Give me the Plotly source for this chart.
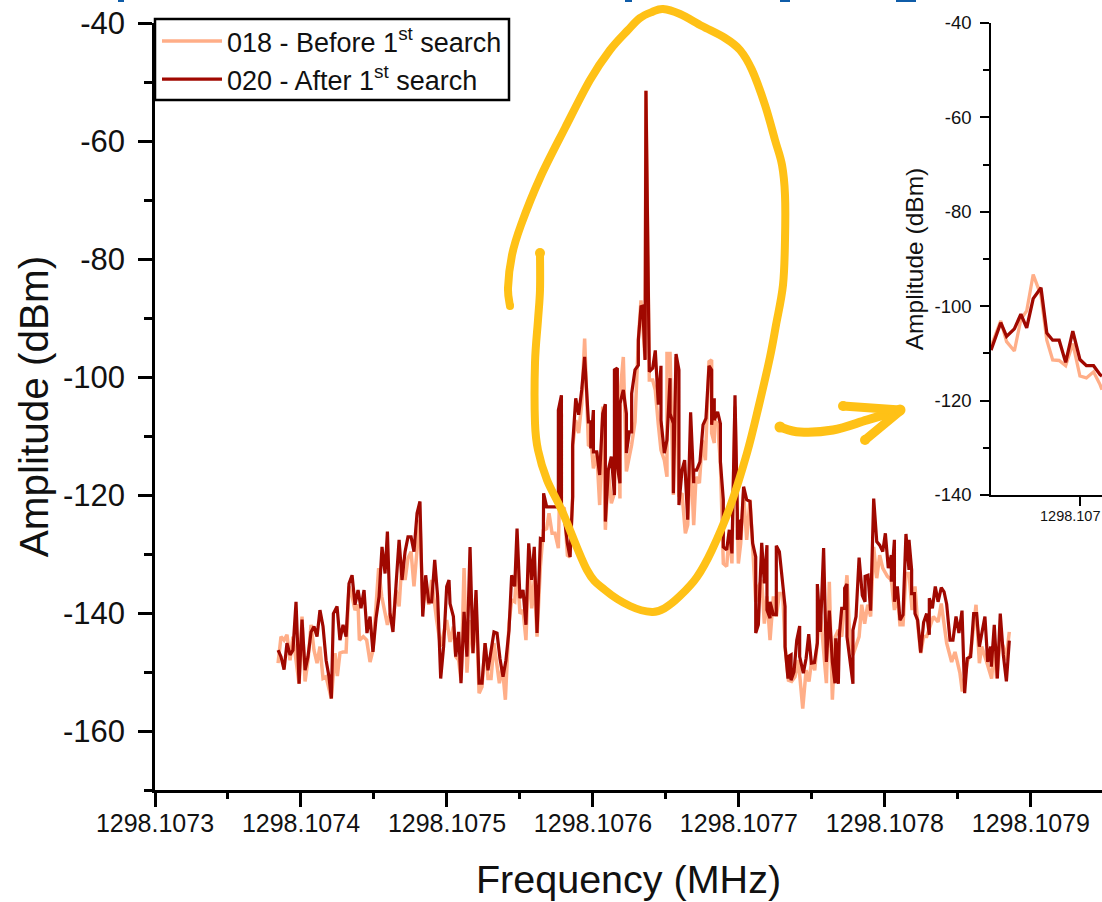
import plotly.graph_objects as go

W, H = 1102, 902
FREQ_BASE = 1298.1073  # MHz

x_tick_vals = [1298.1073, 1298.1074, 1298.1075, 1298.1076, 1298.1077, 1298.1078, 1298.1079]
x_tick_text = ["1298.1073", "1298.1074", "1298.1075", "1298.1076", "1298.1077", "1298.1078", "1298.1079"]
x_minor_vals = [1298.10735, 1298.10745, 1298.10755, 1298.10765, 1298.10775, 1298.10785]
y_tick_vals = [-40, -60, -80, -100, -120, -140, -160]
y_tick_text = ["-40", "-60", "-80", "-100", "-120", "-140", "-160"]
y_minor_vals = [-50, -70, -90, -110, -130, -150, -170]
inset_y_ticks = [-40, -60, -80, -100, -120, -140]
inset_y_minor = [-50, -70, -90, -110, -130]

# offsets from 1298.1073 MHz, in Hz
after_hz = [84.3,86.3,88.4,90.4,92.5,94.5,96.6,98.7,100.7,102.8,104.8,106.9,108.9,111,113,115.1,117.2,119.2,120.8,122.2,124.7,126.7,128.8,130.9,132.9,135,137,139.1,141.1,143.2,145.2,147.3,149.3,151.4,153.5,155.5,157.6,159.2,161,163,165.1,167.2,169.2,171.3,173.3,175.4,177.4,179.5,181.5,183.4,185.4,187.5,189.5,191.6,193.6,195.7,197.7,199.8,201.4,202.1,204.4,206,208,209.6,211.7,213.7,215.8,217.8,219.9,222,224,226.1,228.1,230.2,232.2,234.3,236.3,238.4,240.4,242.5,244.3,246.4,248,250,252.1,254.1,256,258,259.8,261.7,264,266,266.2,268.3,
 276.3,276.3,278.4,278.4,280.4,282.5,284.3,286.1,286.1,288.2,290.2,292.3,294.3,296.9,298.5,298.5,300.3,300.3,302.6,304.6,306.7,308.5,308.5,310.5,312.6,314.7,314.7,316.7,316.7,318.5,318.5,320.8,322.9,322.9,324.9,326.5,326.5,328.8,331.1,331.1,332.9,334.1,335.7,336.3,338.6,340.9,342.7,344.8,346.6,346.6,348.9,350.7,352.8,352.8,355.1,355.1,356.9,358.9,358.9,361,362.8,364.9,366.9,369,369,371,373.3,375.4,377.4,379.5,381.3,381.3,383.1,383.1,385.4,387.3,387.3,389.3,389.3,391.6,393.4,395.2,397.3,398.9,398.9,401.2,401.2,403.2,405.3,407.6,409.4,411.5,
 411.5,413.3,415.6,417.4,419.2,419.2,421.3,421.3,423.6,425.6,425.6,427.7,430,431.6,431.6,433.6,433.6,435.7,435.7,437.7,439.6,441.6,441.6,444.1,446,447.8,449.6,451.7,453.7,453.7,455.8,458,459.9,461.9,464,465.8,466.3,468.1,468.8,470.4,472.4,472.4,474,474,478.1,478.1,480.2,482.3,484.5,486.4,486.4,488.4,490.2,492.3,494.4,496.4,498.5,500.3,502.3,504.4,504.4,506.5,506.5,508.5,510.3,512.4,514.4,516.5,516.5,518.3,518.3,520.2,520.6,522.4,524.5,526.5,528.6,530.4,530.4,532.5,534.5,536.4,538.6,540.5,542.3,544.6,546.6,548.7,550.7,552.8,554.6,556.4,558.7,560.8,562.8,564.7,568.5,570.4,572.4,572.9,574.9,577,579,581.1,583.2,585.2]
after_dbm = [-146.3,-147.4,-149.6,-145.1,-147.1,-146.3,-138.1,-152,-141.1,-149.7,-147.4,-143.2,-142.3,-144,-139.5,-142.3,-148,-150.8,-154.5,-140.1,-138.9,-144.6,-142,-144,-135,-133.6,-138.6,-136.1,-139.2,-136.1,-143.4,-140.6,-146.6,-140.9,-137.2,-128.8,-133.3,-126.2,-140.1,-143.2,-135.3,-127.6,-134.4,-129.6,-127.1,-127.1,-129.6,-123.1,-121.1,-140.6,-133.6,-138.1,-138.1,-131,-137.2,-151.1,-145.7,-135.5,-134.4,-138.4,-140.6,-147.4,-143.2,-151.9,-139.8,-147.4,-128.8,-146.8,-136.1,-151.9,-151.9,-145.1,-149.7,-146.3,-143.2,-143.4,-147.7,-150.8,-148,-142.9,-133.6,-135.5,-125.7,-137.5,-136.1,-142,-128.2,-134.4,-128.8,-143.4,-127.4,-127.6,-119.7,-122,
 -122,-105.6,-103.1,-122.5,-123.7,-128.2,-130.5,-120.3,-111.5,-103.6,-106.4,-102.2,-96.6,-107.6,-107.6,-112.1,-105.6,-112.7,-112.7,-116.6,-106.2,-104.6,-124.5,-115.8,-113.5,-120,-98.8,-98.5,-115.2,-118,-104.5,-102.2,-106.2,-112.9,-109.3,-109.3,-102.8,-98.8,-98,-93.7,-88.1,-88,-97.1,-51.5,-99.1,-98.5,-95.5,-104.7,-98.1,-107.3,-112.9,-110.7,-100.2,-106.2,-107.9,-119.7,-96.1,-98.8,-121.7,-115.8,-114.1,-124.2,-106,-118,-115.8,-115.8,-114.4,-108.1,-107,-98.1,-98.8,-108.1,-103.6,-107.3,-105.9,-107.9,-114.4,-120.8,-128.8,-129.3,-125.9,-129.9,-103.1,-123.1,-127.6,-124.2,-127.6,-118.6,-120.8,-121.1,-128.2,-130.5,
 -143.4,-142,-128.1,-135,-128.5,-139.5,-140.9,-138.1,-140.3,-140.3,-128.6,-129.6,-135.5,-138.9,-145.7,-151.1,-147.4,-147.1,-151.4,-150,-144.6,-142.2,-147.4,-150.2,-147.7,-143.6,-148.5,-148.4,-145.1,-135.1,-143.2,-129,-148.3,-139.6,-148.3,-151.9,-144.3,-152,-143.6,-139.2,-139.2,-135.8,-135.1,-144,-152,-142.9,-140.6,-130.6,-137,-138.1,-133.8,-133.6,-139.6,-120.6,-127.9,-128.5,-129.6,-126.5,-132.4,-130.2,-134.7,-127.6,-138.1,-135.5,-141.2,-140.3,-126.6,-132.7,-127.6,-132.7,-136.7,-136.7,-140.1,-141.2,-146.7,-141.6,-140.1,-143.7,-137.5,-139.2,-135.5,-138.1,-135.7,-136.4,-138.5,-144.6,-144.6,-140.6,-143.4,-139.6,-153.6,-147.7,-147.4,-140.1,-140.1,-145.7,-140.6,-148.3,-145.7,-149.1,-142,-151.1,-140.1,-147.1,-151.6,-144.7]

before_hz = [84.3,86.3,88.4,90.4,92.5,94.5,96.6,98.7,100.7,102.8,104.8,106.9,108.9,111,113,115.1,117.2,119.2,120.8,123.3,124.9,126.7,128.8,130.9,132.9,135,137,139.1,140,142.7,145,147.3,149.3,153.2,155.3,159.2,161,163,165.1,167.2,169.2,171.3,173.3,175.4,177.4,179.5,181.5,183.4,185.4,187.5,189.5,192.9,195.7,199.8,202.1,204.4,206,208,209.6,211.7,213.7,215.8,217.8,219.9,222,224,226.1,228.1,230.2,232.2,235.9,237.9,240,242.5,244.3,246.4,248,250,252.1,254.1,256,258,259.8,261.7,264,266,268.3,
 269.9,272,274,276.3,278.4,278.4,280.4,282.5,284.3,286.1,286.1,288.2,290.2,292.3,294.3,296.9,299,300.3,302.6,304.6,306.7,308.5,310.5,312.6,314.7,316.7,318.5,318.5,320.8,322.9,324.9,326.5,328.8,331.1,332.9,335.7,336.3,338.6,340.9,342.7,344.8,346.6,348.9,350.7,350.7,352.8,355.1,356.9,358.9,361,363.3,364.9,366.9,369,370.6,372.9,374.9,377,379.5,381.3,381.3,383.1,383.1,385.4,387.3,389.3,391.6,393.4,395.2,397.3,399.6,401.2,403.2,405.3,407.6,409.4,
 411.5,413.3,415.6,417.4,419.2,421.3,423.6,425.6,427.7,430,431.6,433.9,436.1,438.4,440.7,443.7,446,448,449.8,451.9,454.4,456,459.9,461.9,464,466,468.1,470.4,474,476.1,478.1,482.3,484.1,486.1,488.2,490.2,492.3,494.4,496.4,498.5,501.7,504.4,506.5,508.5,510.3,512.4,514.4,516.5,518.6,520.6,522.4,524.5,526.5,528.6,530.9,533.2,536.4,538.6,542.3,545.7,548,551.4,553,556.4,558.7,562.4,564.7,566.3,569.7,573.1,574.9,576.5,579,581.1,582.9,585.2]
before_dbm = [-148.5,-144,-144.6,-143.7,-148,-144,-148,-152,-140.6,-151.6,-148,-142,-146.3,-148.5,-145.7,-151.1,-150.8,-153.1,-154.5,-146.8,-150.7,-146.8,-146.6,-146.6,-135.5,-137.2,-139.5,-138.6,-144.6,-144,-144.6,-148.3,-146.3,-132.4,-137.2,-142,-140.1,-141.8,-136.1,-138.9,-131,-134.4,-130.7,-129.6,-135.5,-129.3,-124.2,-138.9,-136.1,-138.6,-134.4,-141.2,-145.7,-141.2,-144.9,-142.3,-147.4,-148,-151.4,-132.4,-150.1,-141.2,-146.8,-138.9,-153.6,-152.5,-145.1,-151.1,-151.1,-145.1,-151.9,-149.1,-154.7,-141.8,-137.8,-138.1,-132.1,-140.1,-139.5,-144.6,-131.6,-139.2,-134.4,-144,-132.1,-126,-125.7,
 -123.1,-126.5,-126.5,-129,-106.2,-122,-122.3,-130.2,-130.5,-120.3,-111.8,-107.3,-109.5,-104.5,-93.5,-111.5,-111.8,-115.5,-112.7,-121.7,-105,-125.9,-115.8,-121.4,-119.7,-103.1,-120.6,-103.1,-96.6,-116,-113.5,-111.5,-107.6,-93.7,-87,-97.1,-51.5,-100.5,-100.5,-102.2,-108.1,-112.4,-114.1,-116.9,-96,-96,-120,-96.6,-120.3,-119.7,-126.5,-125.1,-112.9,-125.1,-116.9,-118,-110.7,-114.1,-97.4,-97.1,-109.5,-111.2,-107.3,-107.9,-114.6,-131.6,-132.1,-126.5,-131.6,-105,-131.6,-128.2,-119.7,-127.6,-120.8,-129.3,
 -138.1,-135.5,-134.4,-141.8,-137.2,-144.6,-137.2,-140.6,-136.7,-136.7,-145.7,-151.4,-151.6,-150.8,-148,-156.2,-149.7,-151.6,-148,-149.7,-142.9,-140.6,-151.9,-134.7,-154.7,-144,-142.9,-144,-133.6,-145.4,-147.1,-144,-138.6,-141.8,-138.6,-140.6,-128.8,-134.1,-130.2,-132.4,-133.8,-134.4,-139.5,-136.7,-142,-142,-133.3,-133.3,-139.5,-135.5,-141.8,-146.8,-144,-144,-142.3,-140.6,-141.5,-138.4,-145.1,-148.3,-146.6,-150.2,-153.3,-148.3,-146.8,-138.6,-148.5,-145.7,-148.3,-151.1,-145.7,-151.1,-144.6,-145.7,-148,-143.2]

inset_hz = [286.3,287.8,288.7,289.9,290.9,291.8,292.8,294,294.9,295.8,296.8,297.8,298.9,300,301,302.1,303.1,303.4]
inset_after_dbm = [-109.3,-103.5,-106.4,-104.8,-101.7,-104.6,-98.4,-96.1,-105.7,-107.2,-107.2,-111.9,-105.3,-111.3,-112.6,-112.6,-114.5,-114.8]
inset_before_dbm = [-108.6,-103.1,-107.5,-109.5,-102.8,-101,-93.3,-97.7,-107.2,-111.4,-111.5,-112.6,-107.9,-114.8,-115.2,-113.9,-116.6,-117.7]

# freehand highlighter strokes (image pixels)
ring_stroke = [(510,306),(508,288),(512,255),(521,225),(540,178),(565,128),(590,80),(610,50),(628,30),(640,18),(652,12),(663,9),(680,14),(702,26),(725,38),(740,50),(752,70),(765,105),(775,140),(782,165),(785,195),(785,240),(783,285),(776,325),(770,357),(759,405),(747,453),(730,507),(712,550),(697,577),(680,596),(665,608),(652,612),(630,606),(605,590),(587,570),(563,513),(547,480),(538,450),(535,423),(535,363),(538,320),(540,290),(540,253)]
arrow_stroke = [(780,427),(800,432),(833,430),(867,420),(900,410)]
arrow_barb_top = [(843,406),(900,410)]
arrow_barb_low = [(865,440),(900,411)]

LIGHT, DARK, AMBER, BLUE = "#FFAE88", "#A00800", "#FFC116", "#0F5CA8"
FONT = "Liberation Sans, Arial, sans-serif"

def to_mhz(hz):
    return [FREQ_BASE + h * 1e-6 for h in hz]

def px(p):
    return p[0] / W, 1 - p[1] / H

def smooth_path(pts):
    out = "M %.5f %.5f" % px(pts[0])
    for i in range(len(pts) - 1):
        p0 = pts[max(i - 1, 0)]; p1 = pts[i]; p2 = pts[i + 1]; p3 = pts[min(i + 2, len(pts) - 1)]
        c1 = (p1[0] + (p2[0] - p0[0]) / 6, p1[1] + (p2[1] - p0[1]) / 6)
        c2 = (p2[0] - (p3[0] - p1[0]) / 6, p2[1] - (p3[1] - p1[1]) / 6)
        out += " C %.5f %.5f %.5f %.5f %.5f %.5f" % (*px(c1), *px(c2), *px(p2))
    return out

def dot(p, r):
    return dict(type="circle", xref="paper", yref="paper", layer="above",
                x0=(p[0] - r) / W, x1=(p[0] + r) / W, y0=1 - (p[1] + r) / H, y1=1 - (p[1] - r) / H,
                fillcolor=AMBER, line_width=0)

def stroke(pts, w):
    return dict(type="path", path=smooth_path(pts), xref="paper", yref="paper", layer="above",
                line=dict(color=AMBER, width=w))

fig = go.Figure()
fig.add_trace(go.Scatter(x=to_mhz(before_hz), y=before_dbm, mode="lines", name="018 - Before 1<sup>st</sup> search",
                         line=dict(color=LIGHT, width=3.5)))
fig.add_trace(go.Scatter(x=to_mhz(after_hz), y=after_dbm, mode="lines", name="020 - After 1<sup>st</sup> search",
                         line=dict(color=DARK, width=3.2)))
fig.add_trace(go.Scatter(x=to_mhz(inset_hz), y=inset_before_dbm, mode="lines", xaxis="x2", yaxis="y2",
                         showlegend=False, line=dict(color=LIGHT, width=3.3)))
fig.add_trace(go.Scatter(x=to_mhz(inset_hz), y=inset_after_dbm, mode="lines", xaxis="x2", yaxis="y2",
                         showlegend=False, line=dict(color=DARK, width=3.3)))

# legend frame (drawn beneath the transparent legend so its size can match the reference)
shapes = [dict(type="rect", xref="paper", yref="paper", layer="above", x0=155 / W, x1=509 / W,
               y0=1 - 100 / H, y1=1 - 19 / H, fillcolor="white", line=dict(color="black", width=2.5))]
shapes += [stroke(ring_stroke, 8), stroke(arrow_stroke, 9), stroke(arrow_barb_top, 9), stroke(arrow_barb_low, 9)]
shapes += [dot(ring_stroke[0], 4), dot(ring_stroke[-1], 5), dot(arrow_stroke[0], 5.5), dot(arrow_stroke[-1], 5.5),
           dot(arrow_barb_top[0], 5), dot(arrow_barb_low[0], 5)]
for x0, x1, y1 in [(118, 124, 2), (625, 632, 2), (780, 790, 2), (896, 916, 2)]:
    shapes.append(dict(type="rect", xref="paper", yref="paper", layer="above", x0=x0 / W, x1=x1 / W,
                       y0=1 - y1 / H, y1=1, fillcolor=BLUE, line_width=0))

fig.update_layout(
    width=W, height=H, autosize=False, margin=dict(l=0, r=0, t=0, b=0),
    paper_bgcolor="white", plot_bgcolor="white",
    font=dict(family=FONT, color="#111111"),
    shapes=shapes,
    annotations=[dict(text="1298.107", xref="paper", yref="paper", x=1102 / W, y=1 - 516 / H,
                      xanchor="right", yanchor="middle", showarrow=False, font=dict(size=14.5, color="#111111"))],
    legend=dict(x=157 / W, y=1 - 17 / H, xanchor="left", yanchor="top", bgcolor="rgba(0,0,0,0)",
                borderwidth=0, font=dict(size=27, family=FONT, color="#111111"),
                itemwidth=60, tracegroupgap=0),
    xaxis=dict(domain=[155 / W, 1], range=[FREQ_BASE, FREQ_BASE + (W - 155) * 0.685e-6], automargin=False,
               tickmode="array", tickvals=x_tick_vals, ticktext=x_tick_text, tickfont=dict(size=25), ticklabelstandoff=-5,
               ticks="outside", ticklen=14, tickwidth=2.5, tickcolor="black",
               minor=dict(tickmode="array", tickvals=x_minor_vals, ticks="outside", ticklen=6, tickwidth=2.5, tickcolor="black", showgrid=False),
               showgrid=False, zeroline=False, showline=True, linewidth=2.5, linecolor="black", anchor="y",
               title=dict(text="Frequency (MHz)", font=dict(size=39.5), standoff=30)),
    yaxis=dict(domain=[(H - 790) / H, (H - 23) / H], range=[-170, -40], automargin=False,
               tickmode="array", tickvals=y_tick_vals, ticktext=y_tick_text, tickfont=dict(size=31), ticklabelstandoff=7,
               ticks="outside", ticklen=14, tickwidth=2.5, tickcolor="black",
               minor=dict(tickmode="array", tickvals=y_minor_vals, ticks="outside", ticklen=8, tickwidth=2.5, tickcolor="black", showgrid=False),
               showgrid=False, zeroline=False, showline=True, linewidth=2.5, linecolor="black", anchor="x",
               title=dict(text="Amplitude (dBm)", font=dict(size=40.5), standoff=2)),
    xaxis2=dict(domain=[991 / W, 1], range=[FREQ_BASE + 286.3e-6, FREQ_BASE + 303.4e-6], anchor="y2", automargin=False,
                tickmode="array", tickvals=[1298.1076], showticklabels=False,
                ticks="outside", ticklen=9, tickwidth=1.5, tickcolor="black",
                showgrid=False, zeroline=False, showline=True, linewidth=1.6, linecolor="black"),
    yaxis2=dict(domain=[(H - 495) / H, (H - 23) / H], range=[-140, -40], anchor="x2", automargin=False,
                tickmode="array", tickvals=inset_y_ticks, ticktext=[str(v) for v in inset_y_ticks], tickfont=dict(size=18.5), ticklabelstandoff=5,
                ticks="outside", ticklen=9, tickwidth=1.5, tickcolor="black",
                minor=dict(tickmode="array", tickvals=inset_y_minor, ticks="outside", ticklen=6, tickwidth=1.5, tickcolor="black", showgrid=False),
                showgrid=False, zeroline=False, showline=True, linewidth=1.6, linecolor="black",
                title=dict(text="Amplitude (dBm)", font=dict(size=24.5), standoff=4)),
)

fig.write_html("out.html", config=dict(displayModeBar=False),
               post_script="document.body.style.margin='0';document.documentElement.style.overflow='hidden';")
